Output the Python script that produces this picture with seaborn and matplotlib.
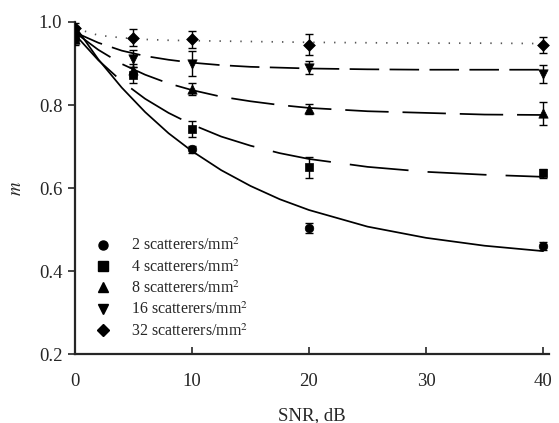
import numpy as np
import pandas as pd
import matplotlib
matplotlib.use("Agg")
import matplotlib.pyplot as plt
import seaborn as sns
from matplotlib.lines import Line2D

sns.set_style("ticks")
plt.rcParams['font.family'] = ['Liberation Serif', 'DejaVu Serif']
plt.rcParams['mathtext.fontset'] = 'stix'

labels = ["2 scatterers/mm$^2$", "4 scatterers/mm$^2$", "8 scatterers/mm$^2$",
          "16 scatterers/mm$^2$", "32 scatterers/mm$^2$"]
markers = ["o", "s", "^", "v", "D"]

# measured points (SNR, m, error)
snr_c = [0, 10, 20, 40]
m_c = [0.970, 0.693, 0.503, 0.460]
e_c = [0.012, 0.008, 0.012, 0.010]

snr_s = [0, 5, 10, 20, 40]
m_s = [0.965, 0.872, 0.742, 0.650, 0.635]
e_s = [0.015, 0.020, 0.020, 0.025, 0.012]

snr_t = [0, 5, 10, 20, 40]
m_t = [0.960, 0.885, 0.838, 0.790, 0.780]
e_t = [0.015, 0.015, 0.015, 0.012, 0.028]

snr_v = [0, 5, 10, 20, 40]
m_v = [0.975, 0.912, 0.900, 0.890, 0.875]
e_v = [0.015, 0.020, 0.030, 0.015, 0.022]

snr_d = [0, 5, 10, 20, 40]
m_d = [0.985, 0.962, 0.958, 0.945, 0.945]
e_d = [0.012, 0.020, 0.020, 0.025, 0.020]

# fitted curves
fit_x = [0, 2, 4, 6, 8, 10, 12.5, 15, 17.5, 20, 25, 30, 35, 40]
fit_c = [0.990, 0.910, 0.842, 0.783, 0.732, 0.689, 0.643, 0.605, 0.573, 0.547, 0.507, 0.480, 0.461, 0.448]
fit_s = [0.970, 0.908, 0.857, 0.815, 0.781, 0.753, 0.724, 0.702, 0.684, 0.670, 0.651, 0.639, 0.632, 0.627]
fit_t = [0.975, 0.933, 0.899, 0.873, 0.852, 0.836, 0.820, 0.809, 0.800, 0.793, 0.785, 0.781, 0.777, 0.776]
fit_v = [0.975, 0.950, 0.931, 0.918, 0.909, 0.902, 0.896, 0.892, 0.890, 0.888, 0.886, 0.885, 0.885, 0.885]
fit_d = [0.985, 0.968, 0.962, 0.958, 0.956, 0.955, 0.954, 0.953, 0.952, 0.951, 0.950, 0.949, 0.949, 0.948]

fig = plt.figure(figsize=(5.59, 4.23), dpi=100)
ax = fig.add_axes([0.134, 0.163, 0.848, 0.785])

styles = ['-', (0, (34, 11)), (0, (25, 8)), (0, (17, 6)), (0, (0.8, 5.2))]
fits = [fit_c, fit_s, fit_t, fit_v, fit_d]
lcolors = ['black', 'black', 'black', 'black', '#555555']
for f, ls, lc in zip(fits, styles, lcolors):
    sns.lineplot(x=fit_x, y=f, ax=ax, color=lc, lw=1.25, linestyle=ls, zorder=2)

pts = [(snr_c, m_c, e_c), (snr_t, m_t, e_t), (snr_s, m_s, e_s), (snr_v, m_v, e_v), (snr_d, m_d, e_d)]
order = [0, 2, 1, 3, 4]
sizes = {"o": 38, "s": 40, "^": 45, "v": 45, "D": 36}
for idx, (sx, sy, se) in zip(order, pts):
    ax.errorbar(sx, sy, yerr=se, fmt='none', ecolor='black', elinewidth=1.0, capsize=3, capthick=1.0, zorder=3)
    sns.scatterplot(x=sx, y=sy, ax=ax, marker=markers[idx], color='black', s=sizes[markers[idx]],
                    edgecolor='black', linewidth=0.5, zorder=4)

handles = [Line2D([], [], marker=m, color='black', linestyle='none', markersize=6.5) for m in markers]
ax.legend(handles, labels, loc='upper left', bbox_to_anchor=(0.025, 0.37), frameon=False,
          fontsize=11.5, labelspacing=0.3, handletextpad=1.2, handlelength=1.2, borderaxespad=0)

ax.set_xlim(0, 40.5)
ax.set_ylim(0.2, 1.0)
ax.set_xticks([0, 10, 20, 30, 40])
ax.set_yticks([0.2, 0.4, 0.6, 0.8, 1.0])
ax.set_yticklabels(["0.2", "0.4", "0.6", "0.8", "1.0"])
ax.tick_params(axis='x', direction='in', length=5, width=1.2, labelsize=13.5, pad=14)
ax.tick_params(axis='y', direction='out', length=5, width=1.2, labelsize=13.5, pad=4)
for s in ['left', 'bottom']:
    ax.spines[s].set_linewidth(1.6)
sns.despine(ax=ax)
ax.set_xlabel("SNR, dB", fontsize=13.5, labelpad=12)
ax.set_ylabel("$m$", fontsize=13.5, labelpad=10)

fig.savefig("out.png", dpi=100)
